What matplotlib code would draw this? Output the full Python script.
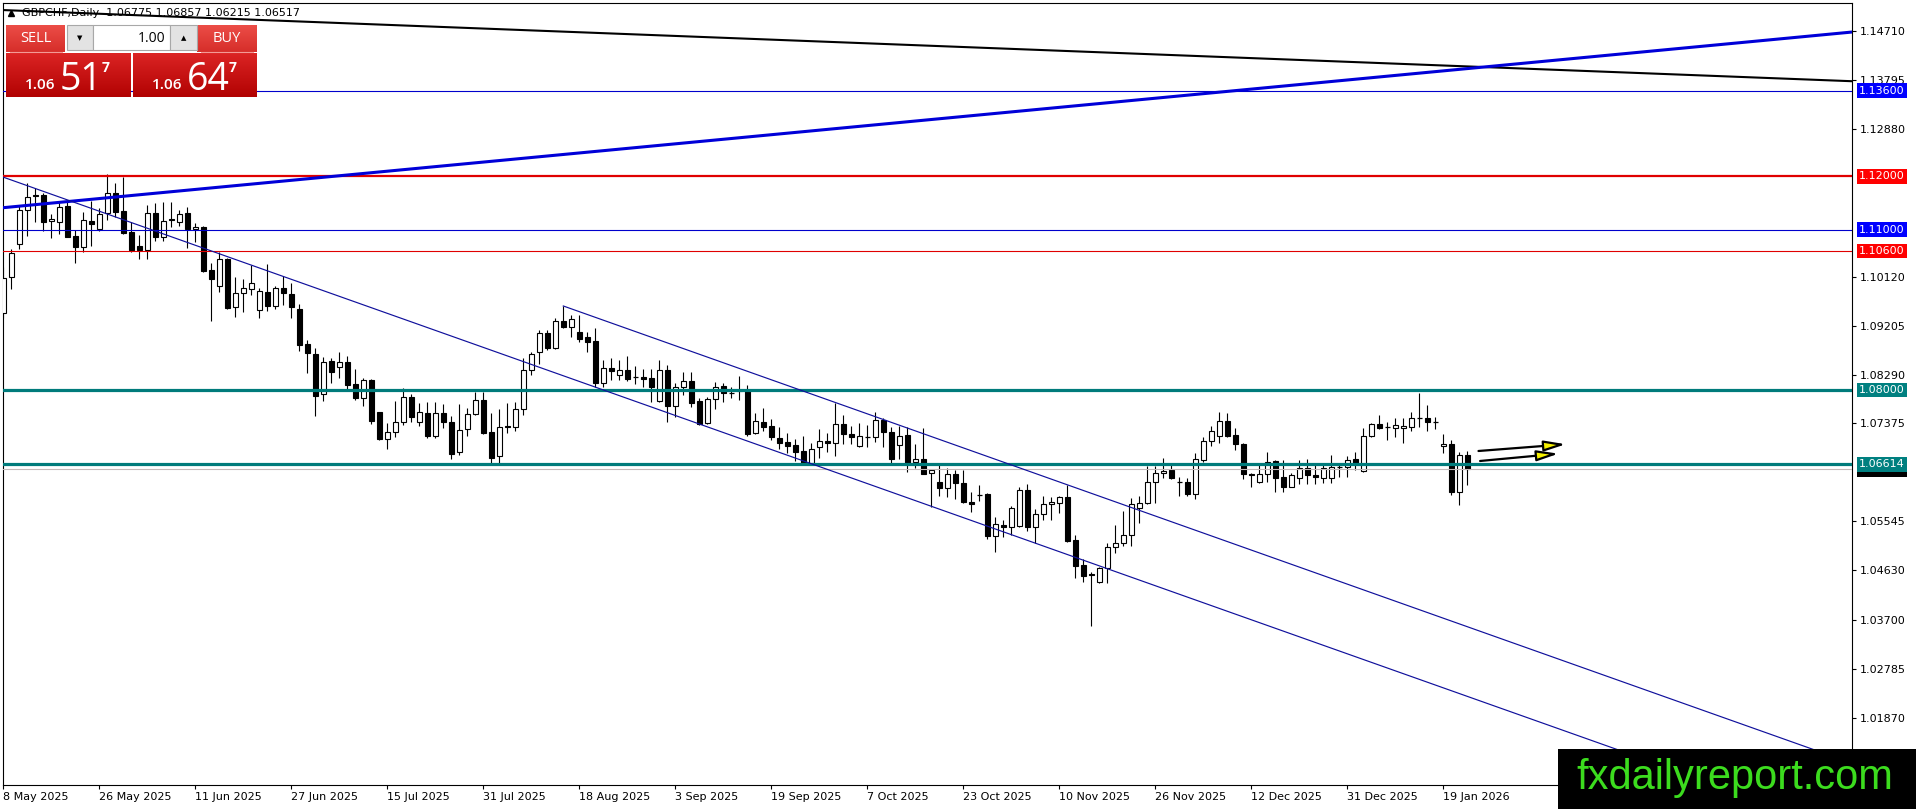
import numpy as np
import matplotlib
matplotlib.use('Agg')
import matplotlib.pyplot as plt
import matplotlib.transforms as mtransforms
from matplotlib.patches import Rectangle

plt.rcParams['font.family'] = ['DejaVu Sans']

# GBPCHF daily bars, 8 May 2025 .. 22 Jan 2026
opens = [
    1.09435, 1.10108, 1.10726, 1.11368, 1.11649, 1.11649, 1.11162, 1.11137, 1.11449, 1.10888,
    1.10682, 1.11169, 1.11013, 1.11306, 1.11680, 1.11349, 1.10950, 1.10695, 1.10614, 1.11306,
    1.10857, 1.11200, 1.11137, 1.11306, 1.11013, 1.11044, 1.10239, 1.09953, 1.10445, 1.09547,
    1.09822, 1.09890, 1.09497, 1.09828, 1.09578, 1.09903, 1.09790, 1.09516, 1.08855, 1.08668,
    1.07920, 1.08537, 1.08425, 1.08518, 1.08113, 1.07845, 1.08188, 1.07583, 1.07078, 1.07209,
    1.07396, 1.07864, 1.07396, 1.07564, 1.07146, 1.07564, 1.07396, 1.06835, 1.07265, 1.07546,
    1.07808, 1.07209, 1.06772, 1.07327, 1.07314, 1.07639, 1.08374, 1.08705, 1.09073, 1.08792,
    1.09291, 1.09185, 1.09079, 1.08985, 1.08917, 1.08137, 1.08406, 1.08287, 1.08374, 1.08237,
    1.08237, 1.08218, 1.07801, 1.08374, 1.07707, 1.08050, 1.08175, 1.07801, 1.07377, 1.07826,
    1.08075, 1.07950, 1.08000, 1.08000, 1.07190, 1.07408, 1.07327, 1.07096, 1.07021, 1.06971,
    1.06853, 1.06628, 1.06940, 1.07052, 1.07015, 1.07358, 1.07177, 1.06959, 1.07127, 1.07115,
    1.07439, 1.07208, 1.06971, 1.07158, 1.06647, 1.06703, 1.06454, 1.06285, 1.06173, 1.06422,
    1.06267, 1.05905, 1.06042, 1.06048, 1.05275, 1.05468, 1.05443, 1.05462, 1.06129, 1.05443,
    1.05674, 1.05861, 1.05880, 1.05992, 1.05187, 1.04726, 1.04564, 1.04402, 1.04664, 1.05057,
    1.05131, 1.05287, 1.05786, 1.05880, 1.06273, 1.06441, 1.06503, 1.06285, 1.06273, 1.06048,
    1.06690, 1.07046, 1.07139, 1.07414, 1.07158, 1.06983, 1.06422, 1.06285, 1.06422, 1.06672,
    1.06366, 1.06191, 1.06347, 1.06534, 1.06404, 1.06347, 1.06360, 1.06566, 1.06566, 1.06703,
    1.06485, 1.07146, 1.07358, 1.07314, 1.07295, 1.07283, 1.07314, 1.07470, 1.07470, 1.07407,
    1.06952, 1.06990, 1.06098, 1.06775]
highs = [
    1.10308, 1.10639, 1.11449, 1.11867, 1.11786, 1.11680, 1.11287, 1.11524, 1.11537, 1.10994,
    1.11337, 1.11537, 1.11399, 1.12035, 1.11867, 1.11992, 1.11137, 1.10900, 1.11462, 1.11493,
    1.11512, 1.11512, 1.11368, 1.11430, 1.11119, 1.11069, 1.10383, 1.10576, 1.10464, 1.10108,
    1.10071, 1.10339, 1.09903, 1.10352, 1.09953, 1.10133, 1.09996, 1.09603, 1.08936, 1.08793,
    1.08624, 1.08606, 1.08705, 1.08637, 1.08394, 1.08219, 1.08200, 1.07595, 1.07377, 1.07795,
    1.08044, 1.07932, 1.07752, 1.07783, 1.07783, 1.07739, 1.07521, 1.07733, 1.07670, 1.07970,
    1.07970, 1.07564, 1.07645, 1.07751, 1.07782, 1.08593, 1.08717, 1.09123, 1.09123, 1.09341,
    1.09572, 1.09403, 1.09403, 1.09091, 1.09154, 1.08561, 1.08593, 1.08561, 1.08636, 1.08449,
    1.08387, 1.08387, 1.08561, 1.08468, 1.08137, 1.08343, 1.08343, 1.07844, 1.07863, 1.08144,
    1.08125, 1.08062, 1.08262, 1.08094, 1.07564, 1.07657, 1.07451, 1.07302, 1.07202, 1.07077,
    1.07146, 1.07015, 1.07264, 1.07202, 1.07751, 1.07533, 1.07327, 1.07389, 1.07346, 1.07582,
    1.07470, 1.07314, 1.07333, 1.07314, 1.06990, 1.07296, 1.06504, 1.06616, 1.06535, 1.06504,
    1.06504, 1.06098, 1.06223, 1.06067, 1.05630, 1.05568, 1.05830, 1.06179, 1.06241, 1.05774,
    1.06017, 1.06004, 1.06017, 1.06223, 1.05287, 1.04832, 1.04589, 1.04695, 1.05144, 1.05474,
    1.05736, 1.05973, 1.06017, 1.06578, 1.06578, 1.06722, 1.06628, 1.06379, 1.06347, 1.06815,
    1.07127, 1.07326, 1.07582, 1.07563, 1.07283, 1.07015, 1.06441, 1.06597, 1.06846, 1.06690,
    1.06690, 1.06453, 1.06690, 1.06703, 1.06597, 1.06597, 1.06784, 1.06640, 1.06765, 1.06846,
    1.07283, 1.07389, 1.07532, 1.07407, 1.07470, 1.07470, 1.07595, 1.07938, 1.07719, 1.07501,
    1.07177, 1.07065, 1.06846, 1.06857]
lows = [
    1.09354, 1.09890, 1.10639, 1.10888, 1.11137, 1.10982, 1.10851, 1.10919, 1.10869, 1.10370,
    1.10589, 1.10701, 1.10982, 1.11181, 1.11243, 1.10919, 1.10576, 1.10445, 1.10445, 1.10788,
    1.10788, 1.11056, 1.11075, 1.10651, 1.10776, 1.10214, 1.09292, 1.09828, 1.09516, 1.09373,
    1.09466, 1.09778, 1.09354, 1.09485, 1.09510, 1.09591, 1.09354, 1.08730, 1.08313, 1.07521,
    1.07801, 1.08125, 1.08219, 1.08013, 1.07814, 1.07708, 1.07358, 1.07065, 1.06891, 1.07115,
    1.07346, 1.07408, 1.07333, 1.07096, 1.07096, 1.07284, 1.06704, 1.06785, 1.07146, 1.07540,
    1.07171, 1.06629, 1.06628, 1.07190, 1.07239, 1.07533, 1.08281, 1.08487, 1.08748, 1.08761,
    1.09154, 1.08998, 1.08904, 1.08717, 1.08062, 1.08062, 1.08187, 1.08187, 1.08175, 1.08112,
    1.08050, 1.07782, 1.07782, 1.07395, 1.07489, 1.07907, 1.07676, 1.07346, 1.07364, 1.07645,
    1.07782, 1.07844, 1.07813, 1.07146, 1.07177, 1.07239, 1.07065, 1.06890, 1.06828, 1.06678,
    1.06616, 1.06616, 1.06722, 1.06846, 1.06772, 1.06990, 1.06990, 1.06940, 1.06928, 1.07034,
    1.06940, 1.06610, 1.06709, 1.06472, 1.06535, 1.06422, 1.05818, 1.06017, 1.05992, 1.05955,
    1.05880, 1.05712, 1.05930, 1.05206, 1.04976, 1.05244, 1.05287, 1.05443, 1.05368, 1.05131,
    1.05568, 1.05568, 1.05693, 1.05150, 1.04489, 1.04414, 1.03585, 1.04383, 1.04383, 1.04944,
    1.05088, 1.05088, 1.05506, 1.05867, 1.05892, 1.06347, 1.06329, 1.06017, 1.06023, 1.05955,
    1.06659, 1.06959, 1.07002, 1.07127, 1.06877, 1.06335, 1.06179, 1.06254, 1.06285, 1.06098,
    1.06098, 1.06179, 1.06241, 1.06241, 1.06235, 1.06254, 1.06266, 1.06379, 1.06379, 1.06503,
    1.06460, 1.07114, 1.07264, 1.07065, 1.07127, 1.07002, 1.07239, 1.07314, 1.07239, 1.07264,
    1.06828, 1.06036, 1.05849, 1.06215]
closes = [
    1.10090, 1.10557, 1.11368, 1.11618, 1.11624, 1.11137, 1.11200, 1.11430, 1.10869, 1.10682,
    1.11181, 1.11112, 1.11287, 1.11680, 1.11337, 1.10944, 1.10620, 1.10614, 1.11306, 1.10857,
    1.11169, 1.11181, 1.11293, 1.11013, 1.11050, 1.10227, 1.10071, 1.10445, 1.09541, 1.09822,
    1.09903, 1.09996, 1.09853, 1.09578, 1.09903, 1.09809, 1.09560, 1.08843, 1.08687, 1.07895,
    1.08531, 1.08331, 1.08518, 1.08094, 1.07845, 1.08188, 1.07427, 1.07078, 1.07209, 1.07408,
    1.07864, 1.07489, 1.07595, 1.07146, 1.07564, 1.07396, 1.06797, 1.07252, 1.07546, 1.07808,
    1.07202, 1.06722, 1.07302, 1.07302, 1.07639, 1.08374, 1.08667, 1.09060, 1.08780, 1.09291,
    1.09185, 1.09322, 1.08954, 1.08904, 1.08137, 1.08406, 1.08362, 1.08374, 1.08206, 1.08237,
    1.08212, 1.08062, 1.08374, 1.07707, 1.08050, 1.08169, 1.07763, 1.07364, 1.07826, 1.08062,
    1.07938, 1.07950, 1.07988, 1.07177, 1.07420, 1.07314, 1.07127, 1.07015, 1.06953, 1.06846,
    1.06628, 1.06897, 1.07052, 1.07015, 1.07358, 1.07171, 1.07127, 1.07146, 1.07127, 1.07439,
    1.07208, 1.06709, 1.07146, 1.06628, 1.06716, 1.06435, 1.06497, 1.06173, 1.06422, 1.06254,
    1.05905, 1.05868, 1.06042, 1.05275, 1.05487, 1.05437, 1.05799, 1.06129, 1.05443, 1.05674,
    1.05861, 1.05898, 1.05992, 1.05175, 1.04714, 1.04526, 1.04545, 1.04664, 1.05057, 1.05131,
    1.05287, 1.05861, 1.05880, 1.06273, 1.06441, 1.06491, 1.06347, 1.06285, 1.06048, 1.06703,
    1.07046, 1.07239, 1.07414, 1.07146, 1.06983, 1.06422, 1.06404, 1.06422, 1.06659, 1.06360,
    1.06191, 1.06410, 1.06534, 1.06410, 1.06379, 1.06534, 1.06553, 1.06566, 1.06690, 1.06616,
    1.07146, 1.07358, 1.07295, 1.07314, 1.07345, 1.07326, 1.07470, 1.07470, 1.07407, 1.07407,
    1.06990, 1.06098, 1.06784, 1.06517]

date_pos = [0, 12, 24, 36, 48, 60, 72, 84, 96, 108, 120, 132, 144, 156, 168, 180]
date_labels = ['8 May 2025', '26 May 2025', '11 Jun 2025', '27 Jun 2025', '15 Jul 2025',
               '31 Jul 2025', '18 Aug 2025', '3 Sep 2025', '19 Sep 2025', '7 Oct 2025',
               '23 Oct 2025', '10 Nov 2025', '26 Nov 2025', '12 Dec 2025', '31 Dec 2025',
               '19 Jan 2026']
price_ticks = [1.14710, 1.13795, 1.12880, 1.10120, 1.09205, 1.08290, 1.07375,
               1.05545, 1.04630, 1.03700, 1.02785, 1.01870]

# horizontal levels
levels = [1.13600, 1.12000, 1.11000, 1.10600, 1.08000, 1.06614]
level_colors = ['#0000cc', '#e00000', '#0000cc', '#e00000', '#007b7b', '#007b7b']
level_boxes = ['#0000ff', '#ff0000', '#0000ff', '#ff0000', '#008080', '#008080']
level_lw = [0.8, 1.6, 0.8, 0.8, 2.3, 2.3]
bid = 1.06517

# trend lines as (bar, price) anchor pairs
black_line = [(0, 1.15108), (200, 1.13956)]
blue_line = [(0, 1.11411), (200, 1.14255)]
chan_a = [(0, 1.11982), (100, 1.06674)]
chan_b = [(70, 1.09572), (170, 1.04262)]
arrows = [((184.4, 1.06859), (195.3, 1.06985)),
          ((184.6, 1.06672), (194.4, 1.06809))]

W, H = 1916, 809
fig = plt.figure(figsize=(W / 100, H / 100), dpi=100)
ax = fig.add_axes([3 / W, 24 / H, 1849 / W, 782.3 / H])
x_lo, x_hi = -0.0375, 231.09
ax.set_xlim(x_lo, x_hi)
ax.set_ylim(1.00610, 1.15246)

o = np.array(opens); h = np.array(highs); l = np.array(lows); c = np.array(closes)
x = np.arange(len(o))
up = c > o
dn = c < o
dj = c == o
ax.vlines(x, l, h, color='black', lw=0.8, zorder=3)
ax.bar(x[up], (c - o)[up], bottom=o[up], width=0.6, color='white', edgecolor='black', lw=0.8, zorder=4)
ax.bar(x[dn], (o - c)[dn], bottom=c[dn], width=0.6, color='black', edgecolor='black', lw=0.8, zorder=4)
ax.hlines(o[dj], x[dj] - 0.3, x[dj] + 0.3, color='black', lw=0.9, zorder=4)

# bid line + levels
ax.axhline(bid, color='#c4b8b8', lw=0.8, zorder=5)
for lv, col, lw in zip(levels, level_colors, level_lw):
    ax.axhline(lv, color=col, lw=lw, zorder=6)


def ray(pts, x0, x1):
    (a0, b0), (a1, b1) = pts
    k = (b1 - b0) / (a1 - a0)
    xs = np.array([x0, x1])
    return xs, b0 + k * (xs - a0)


xs, ys = ray(black_line, x_lo, x_hi)
ax.plot(xs, ys, color='black', lw=1.5, zorder=6)
xs, ys = ray(blue_line, x_lo, x_hi)
ax.plot(xs, ys, color='#0000d8', lw=2.2, zorder=6)
xs, ys = ray(chan_a, x_lo, x_hi)
ax.plot(xs, ys, color='#10109c', lw=0.85, zorder=6)
xs, ys = ray(chan_b, chan_b[0][0], x_hi)
ax.plot(xs, ys, color='#10109c', lw=0.85, zorder=6)

for start, tip in arrows:
    ax.annotate('', xy=tip, xytext=start, zorder=7,
                arrowprops=dict(arrowstyle='-|>,head_length=1.3,head_width=0.32',
                                fc='#f5f000', ec='black', lw=1.6, shrinkA=0, shrinkB=0))

# axes styling
for s in ax.spines.values():
    s.set_linewidth(0.8)
    s.set_color('black')
ax.yaxis.tick_right()
ax.set_yticks(price_ticks)
ax.set_yticklabels(['%.5f' % p for p in price_ticks])
ax.tick_params(axis='y', direction='out', length=3, width=0.8, pad=2.5, labelsize=8)
ax.set_xticks(date_pos)
ax.set_xticklabels(date_labels)
ax.tick_params(axis='x', direction='out', length=3, width=0.8, pad=2, labelsize=8)
for t in ax.get_xticklabels():
    t.set_ha('left')

# price labels on the right scale (bid label sits just under the 1.06614 box)
tr = mtransforms.offset_copy(ax.get_yaxis_transform(), fig=fig, x=7, y=0, units='dots')
ax.text(1.0, bid, '%.5f' % bid, transform=tr, ha='left', va='center', color='white',
        fontsize=8, zorder=8, clip_on=False,
        bbox=dict(boxstyle='square,pad=0.22', fc='black', ec='none'))
for lv, col in zip(levels, level_boxes):
    ax.text(1.0, lv, '%.5f' % lv, transform=tr, ha='left', va='center', color='white',
            fontsize=8, zorder=9, clip_on=False,
            bbox=dict(boxstyle='square,pad=0.22', fc=col, ec='none'))

# overlay in pixel coordinates: header, trade panel, watermark
ov = fig.add_axes([0, 0, 1, 1], zorder=10)
ov.patch.set_alpha(0)
ov.axis('off')


def grad(x0, x1, y0, y1, top, bot, z=11):
    t = np.linspace(0, 1, 60)[:, None, None]
    c0 = np.array(matplotlib.colors.to_rgb(top))
    c1 = np.array(matplotlib.colors.to_rgb(bot))
    img = c0 * (1 - t) + c1 * t
    ov.imshow(img, extent=[x0, x1, y1, y0], aspect='auto', zorder=z, interpolation='bilinear')


ov.plot([11], [13], marker='^', ms=4.5, color='black', zorder=11)
ov.text(22, 13, 'GBPCHF,Daily  1.06775 1.06857 1.06215 1.06517', fontsize=8,
        va='center', ha='left', color='black', zorder=11)

grad(6, 65, 25, 52, '#ec4d47', '#d62e2a')
grad(197, 257, 25, 52, '#ec4d47', '#d62e2a')
ov.plot([10, 62], [51.5, 51.5], color='#f39a96', lw=0.8, zorder=12)
ov.plot([201, 253], [51.5, 51.5], color='#f39a96', lw=0.8, zorder=12)
ov.add_patch(Rectangle((67, 25), 26, 25, fc='#e3e3e3', ec='#a8a8a8', lw=0.8, zorder=11))
ov.add_patch(Rectangle((93, 25), 77, 25, fc='white', ec='#a8a8a8', lw=0.8, zorder=11))
ov.add_patch(Rectangle((170, 25), 27, 25, fc='#e3e3e3', ec='#a8a8a8', lw=0.8, zorder=11))
ov.text(80, 38, '\u25bc', fontsize=5, ha='center', va='center', zorder=12)
ov.text(183.5, 38, '\u25b2', fontsize=5, ha='center', va='center', zorder=12)
ov.text(165, 38, '1.00', fontsize=10, ha='right', va='center', family='Open Sans', zorder=12)
ov.text(35.5, 38, 'SELL', fontsize=10.5, ha='center', va='center', color='white',
        family='Open Sans', zorder=12)
ov.text(227, 38, 'BUY', fontsize=10.5, ha='center', va='center', color='white',
        family='Open Sans', zorder=12)
grad(6, 131, 53, 97, '#dc2424', '#b10202')
grad(133, 257, 53, 97, '#dc2424', '#b10202')
for bx, big in [(25, '51'), (152, '64')]:
    ov.text(bx, 89, '1.06', fontsize=11, ha='left', va='baseline', color='white',
            family='Open Sans', weight='semibold', zorder=12)
    ov.text(bx + 35, 89.5, big, fontsize=27, ha='left', va='baseline', color='white',
            family='Open Sans', zorder=12)
    ov.text(bx + 77, 72, '7', fontsize=10, ha='left', va='baseline', color='white',
            family='Open Sans', weight='bold', zorder=12)

ov.add_patch(Rectangle((1558, 749), 358, 60, fc='black', ec='none', zorder=13))
ov.text(1576, 778, 'fxdailyreport.com', fontsize=30, ha='left', va='center',
        color='#3cdc1e', family='Liberation Sans', zorder=14)

ov.set_xlim(0, W)
ov.set_ylim(H, 0)

fig.savefig('out.png', dpi=100)
